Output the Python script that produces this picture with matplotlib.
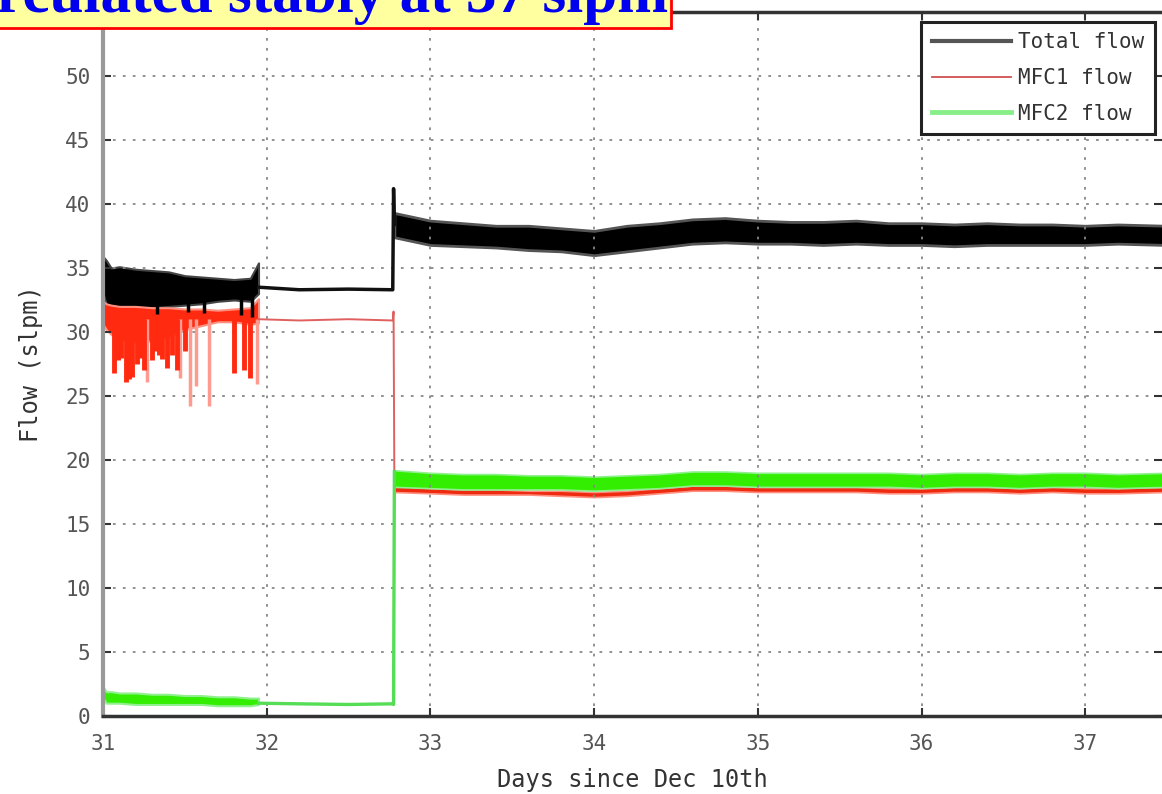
import matplotlib
matplotlib.use('Agg')
import matplotlib.pyplot as plt

# ---- data ----
# segment 1: noisy start, dense band (low / high envelope) plus spikes
t1 = [31.00, 31.02, 31.05, 31.1, 31.2, 31.3, 31.4, 31.5, 31.6, 31.7, 31.8, 31.9, 31.95]
total1_hi = [35.9, 35.6, 35.0, 35.1, 34.9, 34.8, 34.7, 34.4, 34.3, 34.2, 34.1, 34.2, 35.4]
total1_lo = [33.0, 32.2, 31.8, 31.8, 31.8, 31.9, 32.0, 32.1, 32.2, 32.4, 32.5, 32.4, 33.0]
mfc1_1_hi = [32.4, 32.2, 32.1, 32.0, 32.0, 31.9, 31.9, 31.8, 31.8, 31.7, 31.8, 31.9, 32.6]
mfc1_1_lo = [30.6, 30.2, 29.8, 29.4, 29.2, 29.3, 29.6, 30.2, 30.5, 30.8, 30.8, 30.6, 30.7]
mfc2_1_hi = [2.3, 1.9, 1.9, 1.8, 1.8, 1.7, 1.7, 1.6, 1.6, 1.5, 1.5, 1.4, 1.4]
mfc2_1_lo = [1.4, 1.0, 1.0, 1.0, 0.9, 0.9, 0.9, 0.9, 0.9, 0.8, 0.8, 0.8, 0.9]

total_dip_t = [31.33, 31.52, 31.62, 31.84, 31.91]
total_dip = [31.4, 31.6, 31.5, 31.3, 31.2]
mfc1_dip_t = [31.07, 31.09, 31.11, 31.14, 31.16, 31.18, 31.21, 31.23, 31.25, 31.30,
              31.32, 31.34, 31.36, 31.39, 31.42, 31.45, 31.50, 31.80, 31.86, 31.90]
mfc1_dip = [26.8, 27.8, 28.0, 26.1, 26.3, 26.5, 27.5, 28.0, 27.0, 27.8,
            28.5, 28.2, 27.9, 27.2, 28.2, 27.0, 28.5, 26.8, 27.0, 26.4]
mfc1_dip2_t = [31.27, 31.47, 31.53, 31.57, 31.65, 31.94]
mfc1_dip2 = [26.1, 26.4, 24.2, 25.8, 24.2, 25.9]

# segment 2: flat part up to the switch
t2 = [31.95, 32.2, 32.5, 32.77, 32.775, 32.78]
total2 = [33.5, 33.3, 33.35, 33.3, 41.2, 38.4]
mfc1_2 = [31.0, 30.9, 31.0, 30.9, 31.6, 17.8]
mfc2_2 = [1.0, 0.95, 0.9, 0.95, 0.9, 19.1]

# segment 3: noisy bands after the switch (low / high envelope)
t3 = [32.78, 33.0, 33.2, 33.4, 33.6, 33.8, 34.0, 34.2, 34.4, 34.6, 34.8, 35.0,
      35.2, 35.4, 35.6, 35.8, 36.0, 36.2, 36.4, 36.6, 36.8, 37.0, 37.2, 37.5]
total_hi = [39.3, 38.7, 38.5, 38.3, 38.3, 38.1, 37.9, 38.3, 38.5, 38.8, 38.9, 38.7,
            38.6, 38.6, 38.7, 38.5, 38.5, 38.4, 38.5, 38.4, 38.4, 38.3, 38.4, 38.3]
total_lo = [37.4, 36.8, 36.7, 36.6, 36.4, 36.3, 36.0, 36.3, 36.6, 36.9, 37.0, 36.9,
            36.9, 36.8, 36.9, 36.8, 36.8, 36.7, 36.8, 36.8, 36.8, 36.8, 36.9, 36.8]
mfc1_hi = [18.0, 17.8, 17.7, 17.7, 17.6, 17.6, 17.5, 17.6, 17.8, 18.0, 18.0, 17.9,
           17.9, 17.9, 17.9, 17.8, 17.8, 17.9, 17.9, 17.8, 17.9, 17.8, 17.8, 17.9]
mfc1_lo = [17.5, 17.4, 17.3, 17.3, 17.3, 17.2, 17.1, 17.2, 17.4, 17.6, 17.6, 17.5,
           17.5, 17.5, 17.5, 17.4, 17.4, 17.5, 17.5, 17.4, 17.5, 17.4, 17.4, 17.5]
mfc2_hi = [19.2, 19.0, 18.9, 18.9, 18.8, 18.8, 18.7, 18.8, 18.9, 19.1, 19.1, 19.0,
           19.0, 19.0, 19.0, 19.0, 18.9, 19.0, 19.0, 18.9, 19.0, 19.0, 18.9, 19.0]
mfc2_lo = [17.9, 17.8, 17.7, 17.7, 17.7, 17.7, 17.6, 17.7, 17.8, 18.0, 18.0, 17.9,
           17.9, 17.9, 17.9, 17.9, 17.8, 17.9, 17.9, 17.8, 17.9, 17.9, 17.8, 17.9]

xticks = [31, 32, 33, 34, 35, 36, 37]
yticks = list(range(0, 55, 5))

# ---- figure ----
fig = plt.figure(figsize=(11.62, 7.94), dpi=100)
ax = fig.add_axes([103/1162, 78/794, 1 - 103/1162, (716-12)/794])
mono = 'DejaVu Sans Mono'

# total flow
ax.fill_between(t1, total1_lo, total1_hi, color='black', lw=1.5, edgecolor='#444444')
ax.vlines(total_dip_t, total_dip, 33.0, color='black', lw=2.5)
ax.plot(t2, total2, color='#111111', lw=2.5)
ax.fill_between(t3, total_lo, total_hi, color='black', lw=2, edgecolor='#555555')

# MFC1
ax.vlines(mfc1_dip2_t, mfc1_dip2, 31.0, color='#ff9a90', lw=2.5)
ax.vlines(mfc1_dip_t, mfc1_dip, 31.0, color='#ff2a10', lw=3.5)
ax.fill_between(t1, mfc1_1_lo, mfc1_1_hi, color='#ff2a10', lw=1.5, edgecolor='#ff9080')
ax.plot(t2, mfc1_2, color='#e06060', lw=1.4)
ax.fill_between(t3, mfc1_lo, mfc1_hi, color='#ee2a10', lw=1.2, edgecolor='#ff9080')

# MFC2
ax.fill_between(t1, mfc2_1_lo, mfc2_1_hi, color='#33ee00', lw=1.5, edgecolor='#90f090')
ax.plot(t2, mfc2_2, color='#55dd55', lw=2.4)
ax.fill_between(t3, mfc2_lo, mfc2_hi, color='#33ee00', lw=1.2, edgecolor='#90f090')

# legend entries (line styles as drawn in the key)
ax.plot([], [], color='#555555', lw=3, label='Total flow')
ax.plot([], [], color='#d05050', lw=1.3, label='MFC1 flow')
ax.plot([], [], color='#88ee88', lw=3.5, label='MFC2 flow')

ax.set_xlim(31, 31 + 1059/163.7)
ax.set_ylim(0, 55)
ax.set_xticks(xticks)
ax.set_yticks(yticks)
ax.grid(True, linestyle=(0, (1.5, 4)), color='#888888', lw=1.3)
ax.tick_params(direction='in', length=6, width=1.5, top=True, right=True,
               labelsize=15, colors='#333333', labelcolor='#555555', pad=9)
ax.tick_params(axis='x', pad=13)
for lab in ax.get_xticklabels() + ax.get_yticklabels():
    lab.set_family(mono)

for s in ['top', 'bottom']:
    ax.spines[s].set_color('#333333')
    ax.spines[s].set_linewidth(2.5)
ax.spines['left'].set_color('#999999')
ax.spines['left'].set_linewidth(3)
ax.spines['right'].set_visible(False)

ax.set_xlabel('Days since Dec 10th', fontsize=17, family=mono, color='#333333', labelpad=10)
ax.set_ylabel('Flow (slpm)', fontsize=17, family=mono, color='#333333', labelpad=16)

leg = ax.legend(loc='upper right', bbox_to_anchor=((1155-103)/1059, (772-78)/704),
                borderaxespad=0, prop={'family': mono, 'size': 15},
                handlelength=3.8, handletextpad=0.35, fancybox=False, framealpha=1,
                edgecolor='#222222', borderpad=0.5, labelspacing=0.75)
leg.get_frame().set_linewidth(2.2)
for txt in leg.get_texts():
    txt.set_color('#333333')

# banner partly cut off at the top left
fig.text(668/1162, 1 - 12/794, 'Recirculated stably at 37 slpm',
         ha='right', va='baseline', fontsize=44, fontweight='bold',
         family='Liberation Serif', color='#0000ee',
         bbox=dict(boxstyle='square,pad=0.05', facecolor='#ffffa0',
                   edgecolor='#ff0000', lw=2))

plt.savefig('out.png', dpi=100)
